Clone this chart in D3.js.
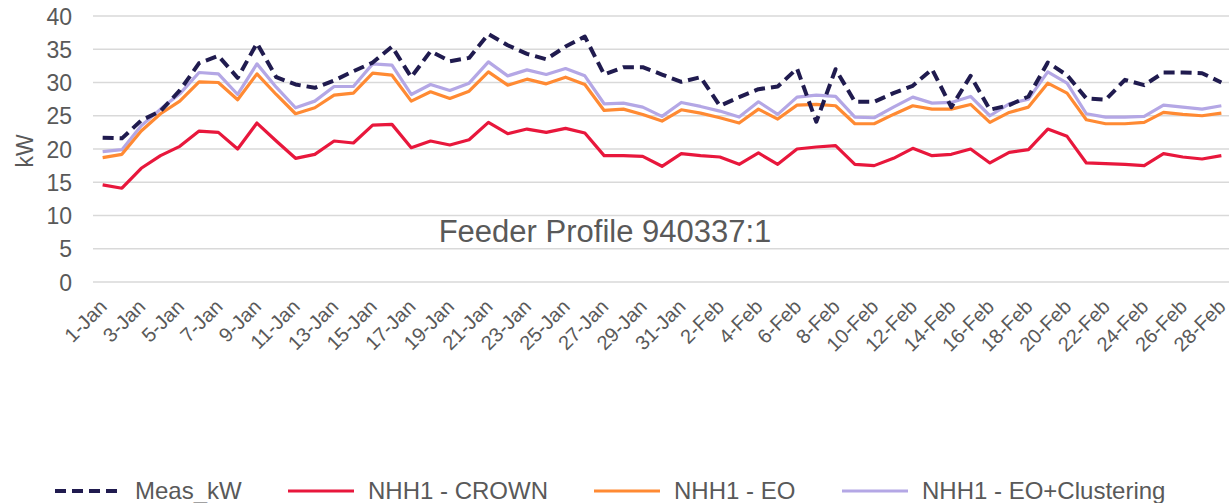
<!DOCTYPE html>
<html>
<head>
<meta charset="utf-8">
<script src="https://cdn.jsdelivr.net/npm/d3@7"></script>
<style>
  body { margin: 0; background: #fff; }
  svg { display: block; font-family: "Liberation Sans", Arial, sans-serif; }
</style>
</head>
<body>
<svg id="chart" width="1231" height="503"></svg>
<script>
'use strict';

const days = [
  '1-Jan','2-Jan','3-Jan','4-Jan','5-Jan','6-Jan','7-Jan','8-Jan','9-Jan','10-Jan',
  '11-Jan','12-Jan','13-Jan','14-Jan','15-Jan','16-Jan','17-Jan','18-Jan','19-Jan','20-Jan',
  '21-Jan','22-Jan','23-Jan','24-Jan','25-Jan','26-Jan','27-Jan','28-Jan','29-Jan','30-Jan',
  '31-Jan','1-Feb','2-Feb','3-Feb','4-Feb','5-Feb','6-Feb','7-Feb','8-Feb','9-Feb',
  '10-Feb','11-Feb','12-Feb','13-Feb','14-Feb','15-Feb','16-Feb','17-Feb','18-Feb','19-Feb',
  '20-Feb','21-Feb','22-Feb','23-Feb','24-Feb','25-Feb','26-Feb','27-Feb','28-Feb'
];

const measKw = [
  21.7, 21.6, 24.3, 25.7, 28.8, 32.9, 34.0, 30.7, 35.9, 30.8,
  29.7, 29.2, 30.3, 31.7, 33.0, 35.4, 30.8, 34.7, 33.2, 33.7,
  37.3, 35.6, 34.3, 33.5, 35.4, 36.9, 31.2, 32.3, 32.3, 31.2,
  30.1, 30.8, 26.5, 27.8, 29.0, 29.4, 32.1, 24.1, 32.0, 27.1,
  27.1, 28.4, 29.5, 32.0, 26.3, 31.0, 25.9, 26.6, 27.9, 33.0,
  31.1, 27.6, 27.4, 30.4, 29.6, 31.5, 31.5, 31.4, 30.0
];
const crown = [
  14.6, 14.1, 17.1, 19.0, 20.4, 22.7, 22.5, 20.0, 23.9, 21.2,
  18.6, 19.2, 21.2, 20.9, 23.6, 23.7, 20.2, 21.2, 20.6, 21.4,
  24.0, 22.3, 23.0, 22.5, 23.1, 22.4, 19.0, 19.0, 18.9, 17.4,
  19.3, 19.0, 18.8, 17.7, 19.4, 17.7, 20.0, 20.3, 20.5, 17.7,
  17.5, 18.6, 20.1, 19.0, 19.2, 20.0, 17.9, 19.5, 19.9, 23.0,
  21.9, 17.9, 17.8, 17.7, 17.5, 19.3, 18.8, 18.5, 19.0
];
const eo = [
  18.7, 19.2, 22.7, 25.3, 27.2, 30.1, 30.0, 27.4, 31.3, 28.2,
  25.3, 26.2, 28.1, 28.4, 31.4, 31.1, 27.2, 28.6, 27.6, 28.7,
  31.6, 29.6, 30.5, 29.8, 30.8, 29.7, 25.8, 26.0, 25.2, 24.2,
  25.9, 25.4, 24.7, 23.9, 26.0, 24.5, 26.6, 26.7, 26.5, 23.8,
  23.8, 25.2, 26.5, 26.0, 26.0, 26.7, 24.0, 25.5, 26.3, 29.9,
  28.4, 24.4, 23.8, 23.8, 24.0, 25.5, 25.2, 25.0, 25.4
];
const eoClustering = [
  19.6, 19.9, 23.5, 26.0, 28.3, 31.5, 31.3, 28.2, 32.8, 29.3,
  26.2, 27.2, 29.4, 29.4, 32.8, 32.6, 28.2, 29.7, 28.8, 29.9,
  33.1, 31.0, 31.9, 31.2, 32.1, 31.0, 26.8, 26.9, 26.3, 24.9,
  27.0, 26.4, 25.7, 24.8, 27.1, 25.2, 27.8, 28.1, 27.9, 24.8,
  24.7, 26.3, 27.8, 26.9, 27.0, 27.9, 25.0, 26.8, 27.5, 31.6,
  29.9, 25.3, 24.8, 24.8, 24.9, 26.6, 26.3, 26.0, 26.5
];
const yTicks = [0, 5, 10, 15, 20, 25, 30, 35, 40];

const textColour = '#595959';
const gridColour = '#d9d9d9';

// drawn back to front: purple, orange, red, then the dashed measured line on top
const series = [
  { name: 'NHH1 - EO+Clustering', values: eoClustering, colour: '#b4a7e5', width: 3.2, dash: null },
  { name: 'NHH1 - EO', values: eo, colour: '#ff8a33', width: 3.2, dash: null },
  { name: 'NHH1 - CROWN', values: crown, colour: '#e8173c', width: 3.2, dash: null },
  { name: 'Meas_kW', values: measKw, colour: '#201b4f', width: 4, dash: '11,6' }
];
const legendOrder = ['Meas_kW', 'NHH1 - CROWN', 'NHH1 - EO', 'NHH1 - EO+Clustering'];
const legendX = [55, 288, 594, 842];

const svg = d3.select('#chart');
const x = d3.scalePoint().domain(d3.range(days.length)).range([93, 1231]).padding(0.5);
const y = d3.scaleLinear().domain([0, 40]).range([282, 16]);

// gridlines
svg.append('g')
  .selectAll('line')
  .data(yTicks)
  .join('line')
  .attr('x1', 93).attr('x2', 1229)
  .attr('y1', d => y(d)).attr('y2', d => y(d))
  .attr('stroke', gridColour)
  .attr('stroke-width', 1.5);

// y axis labels
const yAxis = svg.append('g')
  .attr('transform', 'translate(80,0)')
  .call(d3.axisLeft(y).tickValues(yTicks).tickSize(0).tickPadding(8));
yAxis.select('.domain').remove();
yAxis.selectAll('text')
  .attr('fill', textColour)
  .style('font-size', '23px')
  .attr('dy', '0.35em');

svg.append('text')
  .attr('transform', 'translate(33,151) rotate(-90)')
  .attr('text-anchor', 'middle')
  .attr('fill', textColour)
  .style('font-size', '23px')
  .text('kW');

// x axis labels, every other day, rotated
const xAxis = svg.append('g')
  .attr('transform', 'translate(0,290)')
  .call(d3.axisBottom(x)
    .tickValues(d3.range(0, days.length, 2))
    .tickFormat(i => days[i])
    .tickSize(0));
xAxis.select('.domain').remove();
xAxis.selectAll('text')
  .attr('fill', textColour)
  .style('font-size', '20px')
  .attr('text-anchor', 'end')
  .attr('dy', null)
  .attr('y', 0)
  .attr('transform', 'translate(5,18) rotate(-45)');

// lines
const line = d3.line()
  .x((d, i) => x(i))
  .y(d => y(d));

svg.append('g')
  .selectAll('path')
  .data(series)
  .join('path')
  .attr('d', s => line(s.values))
  .attr('fill', 'none')
  .attr('stroke', s => s.colour)
  .attr('stroke-width', s => s.width)
  .attr('stroke-dasharray', s => s.dash)
  .attr('stroke-linejoin', 'round');

// title inside plot
svg.append('text')
  .attr('x', 605).attr('y', 242)
  .attr('text-anchor', 'middle')
  .attr('fill', textColour)
  .style('font-size', '31px')
  .text('Feeder Profile 940337:1');

// legend
const legend = svg.append('g')
  .selectAll('g')
  .data(legendOrder.map(n => series.find(s => s.name === n)))
  .join('g')
  .attr('transform', (d, i) => `translate(${legendX[i]},491)`);
legend.append('line')
  .attr('x1', 0).attr('x2', 66)
  .attr('stroke', d => d.colour)
  .attr('stroke-width', d => d.width)
  .attr('stroke-dasharray', d => d.dash);
legend.append('text')
  .attr('x', 80)
  .attr('dy', '0.35em')
  .attr('fill', textColour)
  .style('font-size', '24px')
  .text(d => d.name);
</script>
</body>
</html>
